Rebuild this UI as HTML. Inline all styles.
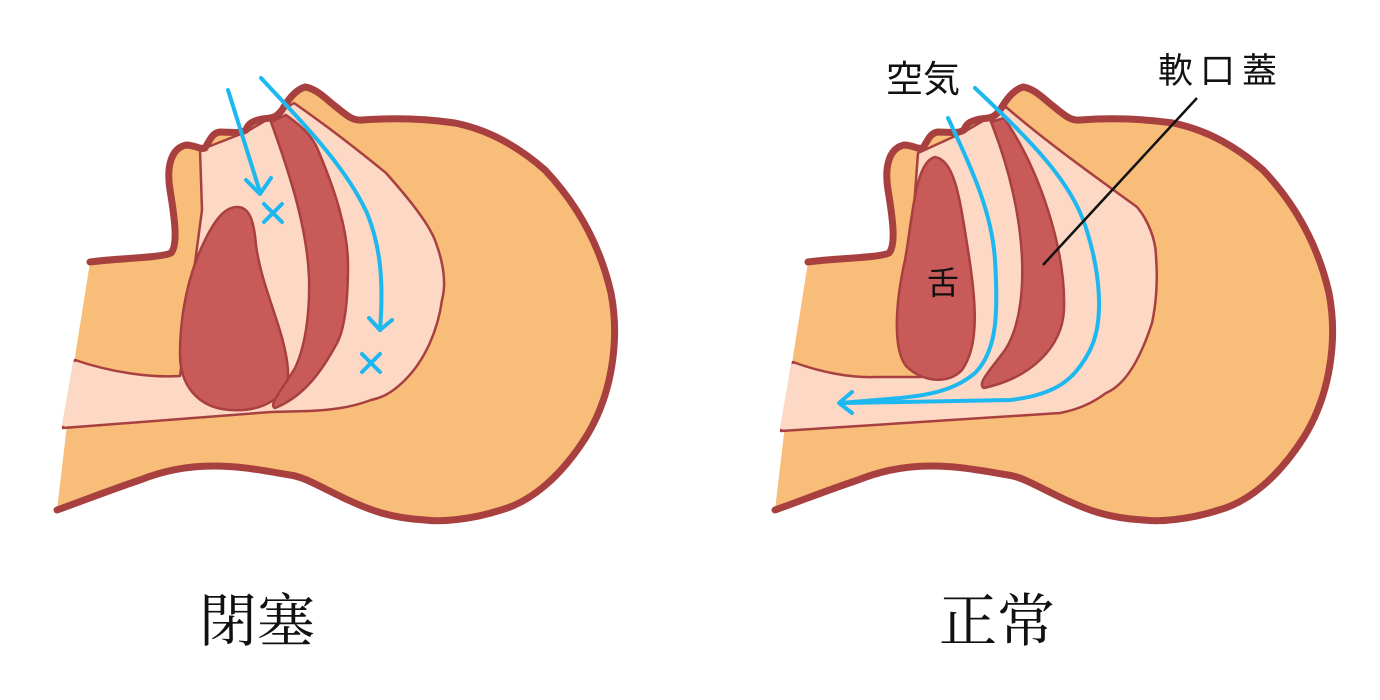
<!DOCTYPE html>
<html><head><meta charset="utf-8"><style>
html,body{margin:0;padding:0;background:#fff;width:1380px;height:700px;overflow:hidden}
svg{display:block}
text{fill:#111}
.serif{font-family:"Liberation Serif","Noto Serif CJK SC",serif}
.sans{font-family:"Liberation Sans","Noto Sans CJK JP",sans-serif}
</style></head><body>
<svg width="1380" height="700" viewBox="0 0 1380 700" xmlns="http://www.w3.org/2000/svg">
<defs>
<path id="head" d="M57,510 L75,357 L90,262 C120,258 160,258 171,253 C178,245 175,220 170,190 C166,165 172,148 186,145 C195,145 200,150 205,148 C210,140 212,133 220,132 C230,132 240,134 246,130 C248,124 252,121 262,119 C272,118 276,118 282,110 C288,100 295,90 305,87 C315,88 325,98 335,106 C345,114 352,121 362,120 C390,118 420,118 455,123 C490,130 520,148 545,170 C578,205 600,245 611,293 C620,340 612,395 586,437 C560,478 530,502 501,510 C470,520 440,522 425,520 C390,518 370,510 348,500 C320,487 305,477 290,475 C260,470 240,466 213,466 C185,466 160,472 140,480 C110,490 85,500 57,510 Z"/>
<path id="outline" d="M90,262 C120,258 160,258 171,253 C178,245 175,220 170,190 C166,165 172,148 186,145 C195,145 200,150 205,148 C210,140 212,133 220,132 C230,132 240,134 246,130 C248,124 252,121 262,119 C272,118 276,118 282,110 C288,100 295,90 305,87 C315,88 325,98 335,106 C345,114 352,121 362,120 C390,118 420,118 455,123 C490,130 520,148 545,170 C578,205 600,245 611,293 C620,340 612,395 586,437 C560,478 530,502 501,510 C470,520 440,522 425,520 C390,518 370,510 348,500 C320,487 305,477 290,475 C260,470 240,466 213,466 C185,466 160,472 140,480 C110,490 85,500 57,510"/>
</defs>

<!-- LEFT FIGURE -->
<use href="#head" fill="#F8BD78"/>
<path d="M200,150 L246,132 L275,115 L294,103 C340,135 370,160 386,173 C410,200 430,225 436,243 C444,265 446,285 442,300 C438,330 425,360 405,380 C390,395 380,398 371,400 C350,408 330,410 309,411 L271,412 L63,428 L75,360 C110,372 150,378 180,376 L202,210 Z" fill="#FCD8C5" stroke="#A84040" stroke-width="2.5" stroke-linejoin="round"/>
<line x1="63.5" y1="426" x2="75.2" y2="362" stroke="#FCD8C5" stroke-width="3.5"/>
<path d="M236,207 C250,206 254,222 256,245 C262,290 285,330 288,370 C290,398 262,412 230,410 C198,408 180,385 180,355 C180,310 190,270 205,240 C215,220 224,208 236,207 Z" fill="#C85A5A" stroke="#A84040" stroke-width="2.5"/>
<path d="M271,122 L286,115 C300,125 312,135 318,150 C335,190 348,230 348,265 C348,300 345,330 336,345 C318,378 300,398 275,408 C268,405 282,390 295,368 C306,345 310,310 309,277 C307,230 292,180 271,122 Z" fill="#C85A5A" stroke="#A84040" stroke-width="2.5"/>
<use href="#outline" fill="none" stroke="#A84040" stroke-width="7" stroke-linejoin="round" stroke-linecap="round"/>
<g stroke="#1EB8F0" stroke-width="4" fill="none" stroke-linecap="round" stroke-linejoin="round">
<path d="M228,90 L260,192"/>
<path d="M246,180 L260,194 L271,178"/>
<path d="M264,204 L282,222 M282,204 L264,222"/>
<path d="M261,78 C300,120 345,165 367,213 C380,245 384,280 380,330"/>
<path d="M369,318 L380,330 L392,320"/>
<path d="M362,354 L380,372 M380,354 L362,372"/>
</g>

<!-- RIGHT FIGURE -->
<use href="#head" transform="translate(718,0)" fill="#F8BD78"/>
<path d="M918,153 L964,132 L993,115 L1006,107 C1050,145 1100,180 1137,207 C1148,220 1156,240 1156,257 C1158,280 1156,305 1152,323 C1140,360 1125,385 1106,393 C1090,405 1075,410 1060,413 L781,431 L793,362 C820,372 850,378 875,377 L921,377 L914,207 Z" fill="#FCD8C5" stroke="#A84040" stroke-width="2.5" stroke-linejoin="round"/>
<line x1="781.5" y1="429" x2="793.2" y2="364" stroke="#FCD8C5" stroke-width="3.5"/>
<path d="M935,157 C955,160 960,200 968,250 C976,300 980,345 962,370 C948,385 922,382 906,366 C892,348 896,300 905,260 C913,215 915,162 935,157 Z" fill="#C85A5A" stroke="#A84040" stroke-width="2.5"/>
<path d="M991,122 L1004,118 C1040,170 1066,250 1064,310 C1062,348 1030,378 984,388 C976,384 992,368 1005,350 C1030,312 1030,220 991,122 Z" fill="#C85A5A" stroke="#A84040" stroke-width="2.5"/>
<use href="#outline" transform="translate(718,0)" fill="none" stroke="#A84040" stroke-width="7" stroke-linejoin="round" stroke-linecap="round"/>
<g stroke="#1EB8F0" stroke-width="4" fill="none" stroke-linecap="round" stroke-linejoin="round">
<path d="M948,118 C975,175 992,215 995,260 C998,310 998,350 975,373 C955,390 930,395 900,398 L840,403"/>
<path d="M975,88 C1030,140 1070,180 1085,225 C1100,270 1105,320 1090,350 C1075,380 1055,395 1010,400 L845,403"/>
<path d="M852,392 L839,403 L852,413"/>
</g>
<line x1="1197" y1="98" x2="1043" y2="265" stroke="#111" stroke-width="2.5"/>
<text class="sans" x="886" y="92" font-size="37">空気</text>
<text class="sans" x="1158" y="83" font-size="35" letter-spacing="7">軟口蓋</text>
<text class="sans" x="927" y="294" font-size="32">舌</text>

<text class="serif" x="199" y="641" font-size="58">閉塞</text>
<text class="serif" x="939" y="641" font-size="58">正常</text>
</svg>
</body></html>
